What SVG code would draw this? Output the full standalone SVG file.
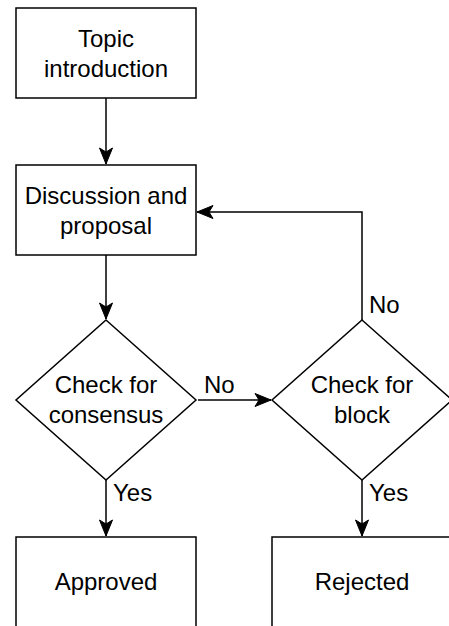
<svg xmlns="http://www.w3.org/2000/svg" width="449" height="626" viewBox="0 0 449 626">
<style>
.shape{fill:#fff;stroke:#000;stroke-width:1.5}
.edge{fill:none;stroke:#000;stroke-width:1.5}
text{font-family:"Liberation Sans",Arial,sans-serif;font-size:24px;fill:#000}
.c{text-anchor:middle}
</style>
<defs>
<marker id="arr" markerUnits="userSpaceOnUse" viewBox="-17 -8 18 16" refX="0" refY="0" markerWidth="18" markerHeight="16" orient="auto">
<path d="M0,0 L-16,-6.5 L-12,0 L-16,6.5 Z" fill="#000" stroke="#000" stroke-width="1"/>
</marker>
</defs>
<rect width="449" height="626" fill="#fff"/>
<g id="connectors">
<path class="edge" d="M106,98 L106,164" marker-end="url(#arr)"/>
<path class="edge" d="M106,255 L106,319" marker-end="url(#arr)"/>
<path class="edge" d="M198,400 L271,400" marker-end="url(#arr)"/>
<path class="edge" d="M362,320 L362,212 L197,212" marker-end="url(#arr)"/>
<path class="edge" d="M106,480 L106,536" marker-end="url(#arr)"/>
<path class="edge" d="M362,480 L362,536" marker-end="url(#arr)"/>
<text x="204" y="393">No</text>
<text x="369" y="313">No</text>
<text x="113" y="501">Yes</text>
<text x="369" y="501">Yes</text>
</g>
<g id="topic">
<rect class="shape" x="16" y="8" width="180" height="90"/>
<text class="c" x="106" y="47">Topic</text>
<text class="c" x="106" y="77">introduction</text>
</g>
<g id="discussion">
<rect class="shape" x="16" y="165" width="180" height="90"/>
<text class="c" x="106" y="204">Discussion and</text>
<text class="c" x="106" y="234">proposal</text>
</g>
<g id="consensus">
<path class="shape" d="M106,320 L196,400 L106,480 L16,400 Z"/>
<text class="c" x="106" y="393">Check for</text>
<text class="c" x="106" y="423">consensus</text>
</g>
<g id="block">
<path class="shape" d="M362,320 L452,400 L362,480 L272,400 Z"/>
<text class="c" x="362" y="393">Check for</text>
<text class="c" x="362" y="423">block</text>
</g>
<g id="approved">
<rect class="shape" x="16" y="537" width="180" height="90"/>
<text class="c" x="106" y="590">Approved</text>
</g>
<g id="rejected">
<rect class="shape" x="272" y="537" width="180" height="90"/>
<text class="c" x="362" y="590">Rejected</text>
</g>
</svg>
